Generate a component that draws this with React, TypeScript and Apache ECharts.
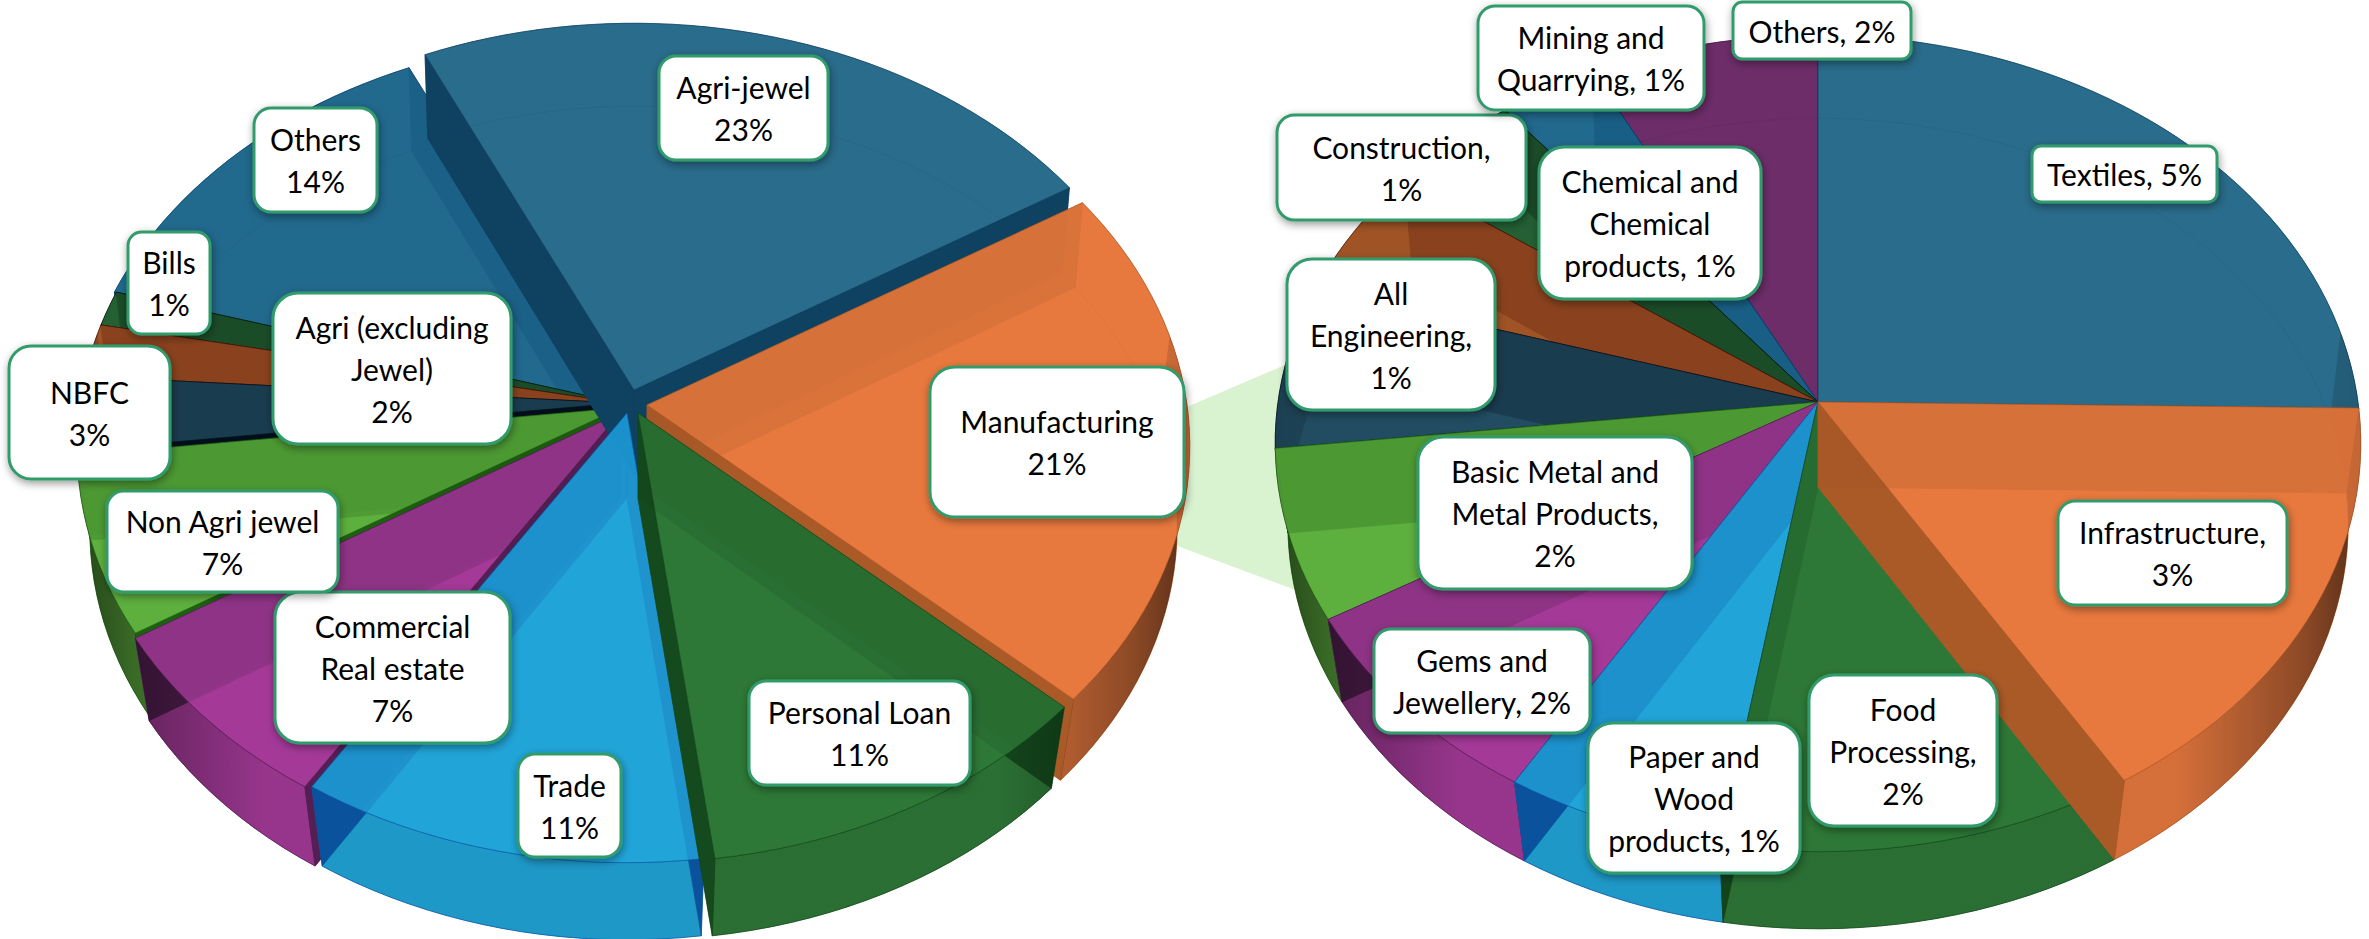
import React, { useEffect, useRef } from "react";
import * as echarts from "echarts";

// ---- data (share of advances, %) ----
const leftNames = ["Agri-jewel", "Manufacturing", "Personal Loan", "Trade", "Commercial Real estate", "Non Agri jewel", "NBFC", "Agri (excluding Jewel)", "Bills", "Others"];
const leftValues = [23.1, 20.7, 11.1, 11.0, 7.2, 7.0, 2.9, 2.1, 1.4, 13.5];
const rightNames = ["Textiles", "Infrastructure", "Food Processing", "Paper and Wood products", "Gems and Jewellery", "Basic Metal and Metal Products", "All Engineering", "Construction", "Chemical and Chemical products", "Mining and Quarrying", "Others"];
const rightValues = [5.3, 3.38, 2.37, 1.25, 1.66, 1.41, 1.36, 1.11, 0.9, 0.68, 1.58];

const leftLabels = ["Agri-jewel\n23%", "Manufacturing\n21%", "Personal Loan\n11%", "Trade\n11%", "Commercial\nReal estate\n7%", "Non Agri jewel\n7%", "NBFC\n3%", "Agri (excluding\nJewel)\n2%", "Bills\n1%", "Others\n14%"];
const rightLabels = ["Textiles, 5%", "Infrastructure,\n3%", "Food\nProcessing,\n2%", "Paper and\nWood\nproducts, 1%", "Gems and\nJewellery, 2%", "Basic Metal and\nMetal Products,\n2%", "All\nEngineering,\n1%", "Construction,\n1%", "Chemical and\nChemical\nproducts, 1%", "Mining and\nQuarrying, 1%", "Others, 2%"];

// ---- layout and styling ----
const leftBoxes = [[659, 56, 828, 160], [930, 367, 1184, 517], [749, 681, 970, 785], [518, 754, 621, 857], [275, 592, 510, 743], [107, 491, 338, 592], [9, 346, 170, 479], [273, 293, 511, 444], [128, 232, 210, 334], [254, 108, 377, 212]];
const rightBoxes = [[2032, 146, 2217, 202], [2058, 501, 2287, 605], [1809, 675, 1997, 826], [1588, 723, 1800, 873], [1374, 629, 1590, 733], [1418, 437, 1692, 589], [1287, 259, 1495, 410], [1277, 115, 1526, 220], [1539, 147, 1761, 299], [1478, 6, 1704, 110], [1733, 2, 1911, 59]];

const topColors = ["#2B6C8B", "#E8793F", "#2E7837", "#21A5D8", "#A43A98", "#5EAF3F", "#224C62", "#A05427", "#246034", "#216A8D", "#6D2D69"];
const wallColors = ["#0F4060", "#A85826", "#14481C", "#0A55A8", "#501E50", "#1C5C10", "#02101A", "#4A1005", "#001000", "#003E6C", "#40103C"];

const leftColorIdx = [0, 1, 2, 3, 4, 5, 6, 7, 8, 9];
const rightColorIdx = [0, 1, 2, 3, 4, 5, 6, 7, 8, 9, 10];
const leftOffsets = [[12, -15], [25, 0], [16, 8], [5, 8], [-2, 8], [-2, 3], [-2, -2], [-2, -2], [-2, -2], [-4, -2]];
const leftPaint = [9, 8, 7, 6, 5, 4, 0, 1, 3, 2];
const rightPaint = [10, 9, 8, 7, 6, 5, 4, 3, 0, 2, 1];

const TOP_ALPHA = 0.75;

function angles(values: number[], startDeg: number) {
  const total = values.reduce((a, b) => a + b, 0);
  let cur = startDeg;
  return values.map((v) => {
    const s = cur;
    cur += (v / total) * 360;
    return [s, cur];
  });
}

function hexA(hex: string, a: number) {
  const n = parseInt(hex.slice(1), 16);
  return `rgba(${(n >> 16) & 255},${(n >> 8) & 255},${n & 255},${a})`;
}

function makeRender(cfg: any) {
  const project = (deg: number, r: number, level: number, o: number[]) => {
    const t = (deg * Math.PI) / 180;
    const u = r * Math.sin(t);
    const v = r * Math.cos(t);
    if (level === 0) {
      const w = 1 + 0.1016 * v;
      return [cfg.cx + o[0] + (540 * u) / w, cfg.cy + o[1] - (404 * v) / w];
    }
    const w = 1 + 0.09 * v;
    return [cfg.cx + o[0] + (528 * u) / w, cfg.cy + 85 + o[1] - (402 * v) / w];
  };
  const arc = (a: number, b: number, level: number, o: number[]) => {
    const n = Math.max(2, Math.ceil((b - a) / 2));
    const pts: number[][] = [];
    for (let i = 0; i <= n; i++) pts.push(project(a + ((b - a) * i) / n, 1, level, o));
    return pts;
  };
  const shade = new echarts.graphic.LinearGradient(cfg.x0, 0, cfg.x1, 0, [
    { offset: 0, color: "rgba(0,0,0,0.62)" },
    { offset: 0.05, color: "rgba(0,0,0,0.4)" },
    { offset: 0.17, color: "rgba(0,0,0,0.08)" },
    { offset: 0.83, color: "rgba(0,0,0,0.08)" },
    { offset: 0.95, color: "rgba(0,0,0,0.4)" },
    { offset: 1, color: "rgba(0,0,0,0.62)" },
  ], true);

  return (_params: any, api: any) => {
    const idx = api.value(0);
    const a = api.value(1);
    const b = api.value(2);
    const o = cfg.offsets ? cfg.offsets[idx] : [0, 0];
    const L = topColors[cfg.colorIdx[idx]];
    const W = wallColors[cfg.colorIdx[idx]];
    const line = { stroke: hexA(W, 0.55), lineWidth: 1 };
    const apexT = project(0, 0, 0, o);
    const apexB = project(0, 0, 1, o);
    const topArc = arc(a, b, 0, o);
    const botArc = arc(a, b, 1, o);
    const poly = (points: number[][], style: any) => ({ type: "polygon", silent: true, shape: { points }, style });
    const children: any[] = [];
    // floor of the slice
    children.push(poly([apexB, ...botArc], { fill: L, ...line }));
    // outer wall
    children.push(poly([...topArc, ...botArc.slice().reverse()], { fill: L, ...line }));
    // two radial walls
    const wall = (deg: number) =>
      poly([apexT, project(deg, 1, 0, o), project(deg, 1, 1, o), apexB], { fill: W, opacity: 0.96, ...line });
    children.push(wall(a));
    children.push(wall(b));
    // shading on the part of the outer wall that faces the viewer
    const na = Math.max(a, 80);
    const nb = Math.min(b, 280);
    if (nb > na) {
      children.push(poly([...arc(na, nb, 0, o), ...arc(na, nb, 1, o).reverse()], { fill: shade }));
    }
    // translucent top
    children.push(poly([apexT, ...topArc], { fill: hexA(L, TOP_ALPHA), ...line }));
    return { type: "group", children };
  };
}

function labelElements(texts: string[], boxes: number[][]) {
  return texts.map((text, i) => {
    const [x0, y0, x1, y1] = boxes[i];
    const w = x1 - x0;
    const h = y1 - y0;
    return {
      type: "group",
      z: 10,
      silent: true,
      children: [
        {
          type: "rect",
          z: 10,
          shape: { x: x0, y: y0, width: w, height: h, r: Math.min(w, h) * 0.166 },
          style: { fill: "#fff", stroke: "#339B6C", lineWidth: 3, shadowBlur: 9, shadowOffsetX: 1, shadowOffsetY: 3, shadowColor: "rgba(0,0,0,0.4)" },
        },
        {
          type: "text",
          z: 11,
          x: (x0 + x1) / 2,
          y: (y0 + y1) / 2,
          style: { text, fill: "#000", fontSize: 30, lineHeight: 42, fontFamily: "Lato", textAlign: "center", textVerticalAlign: "middle" },
        },
      ],
    };
  });
}

export default function App() {
  const ref = useRef<HTMLDivElement>(null);
  useEffect(() => {
    document.body.style.margin = "0";
    const chart = echarts.init(ref.current!, undefined, { renderer: "svg" });
    const la = angles(leftValues, -25);
    const ra = angles(rightValues, 0);
    chart.setOption({
      animation: false,
      backgroundColor: "#fff",
      graphic: {
        elements: [
          {
            type: "polygon",
            z: 0,
            silent: true,
            shape: { points: [[1140, 427], [1320, 350], [1320, 599], [1140, 532]] },
            style: { fill: "#D9F2D0" },
          },
          ...labelElements(leftLabels, leftBoxes),
          ...labelElements(rightLabels, rightBoxes),
        ],
      },
      series: [
        {
          type: "custom",
          name: "Loan book",
          coordinateSystem: "none",
          silent: true,
          z: 2,
          clip: false,
          renderItem: makeRender({ cx: 622, cy: 405, x0: 76, x1: 1190, colorIdx: leftColorIdx, offsets: leftOffsets }),
          data: leftPaint.map((i) => ({ name: leftNames[i], value: [i, la[i][0], la[i][1], leftValues[i]] })),
        },
        {
          type: "custom",
          name: "Manufacturing",
          coordinateSystem: "none",
          silent: true,
          z: 2,
          clip: false,
          renderItem: makeRender({ cx: 1818, cy: 402, x0: 1274, x1: 2360, colorIdx: rightColorIdx }),
          data: rightPaint.map((i) => ({ name: rightNames[i], value: [i, ra[i][0], ra[i][1], rightValues[i]] })),
        },
      ],
    });
    return () => chart.dispose();
  }, []);
  return <div ref={ref} style={{ position: "absolute", left: 0, top: 0, width: 2369, height: 939 }} />;
}
